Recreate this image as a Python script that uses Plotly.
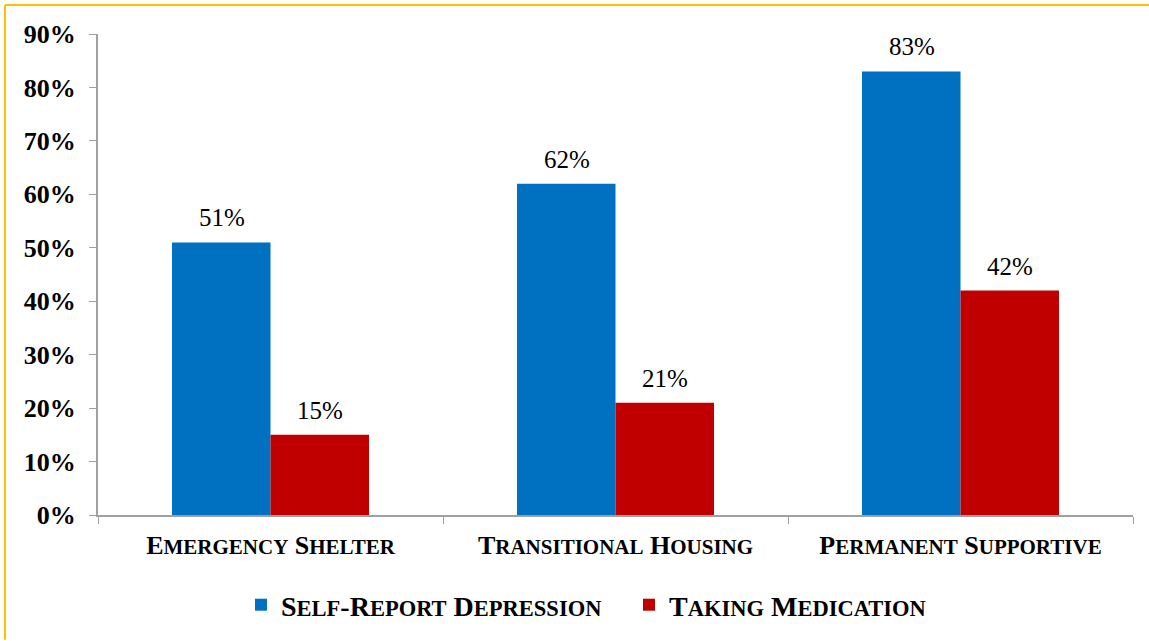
import plotly.graph_objects as go

categories = ["Emergency Shelter", "Transitional Housing", "Permanent Supportive"]
series_names = ["Self-Report Depression", "Taking Medication"]
self_report = [0.51, 0.62, 0.83]
taking_med = [0.15, 0.21, 0.42]
y_ticks = [0, 0.1, 0.2, 0.3, 0.4, 0.5, 0.6, 0.7, 0.8, 0.9]

colors = ["#0070C0", "#C00000"]
FONT = "Liberation Serif"


def smallcaps(s, small=21):
    out = ""
    start = True
    buf = ""
    for ch in s:
        if ch.isalpha():
            if start:
                if buf:
                    out += f"<span style='font-size:{small}px'>{buf}</span>"
                    buf = ""
                out += ch.upper()
                start = False
            else:
                buf += ch.upper()
        else:
            if buf:
                out += f"<span style='font-size:{small}px'>{buf}</span>"
                buf = ""
            out += ch
            start = ch in " -"
    if buf:
        out += f"<span style='font-size:{small}px'>{buf}</span>"
    return "<b>" + out + "</b>"


fig = go.Figure()
for name, vals, col in zip(series_names, [self_report, taking_med], colors):
    fig.add_trace(go.Bar(x=categories, y=vals, name=smallcaps(name, 22.5), marker_color=col,
                         marker_line_width=0))

# value labels
ann = []
for vals, shift in [(self_report, -49), (taking_med, 49)]:
    for c, v in zip(categories, vals):
        ann.append(dict(x=c, y=v, text=f"{round(v*100)}%", showarrow=False,
                        xshift=shift, yanchor="bottom", yshift=9,
                        font=dict(family=FONT, size=25, color="black")))

L, R, T, B = 98, 16, 34, 125
W, H = 1149, 641
pw, ph = W - L - R, H - T - B


def px_x(px):
    return (px - L) / pw


def px_y(py):
    return (H - B - py) / ph


shapes = [
    dict(type="line", xref="paper", yref="paper", x0=px_x(5), x1=px_x(1149), y0=px_y(5), y1=px_y(5),
         line=dict(color="#FFC000", width=2)),
    dict(type="line", xref="paper", yref="paper", x0=px_x(5), x1=px_x(5), y0=px_y(5), y1=px_y(641),
         line=dict(color="#FFC000", width=2)),
]

fig.update_layout(
    width=W, height=H,
    margin=dict(l=L, r=R, t=T, b=B),
    paper_bgcolor="white", plot_bgcolor="white",
    barmode="group", bargap=0.429, bargroupgap=0,
    font=dict(family=FONT, color="black"),
    annotations=ann,
    shapes=shapes,
    showlegend=True,
    legend=dict(orientation="h", x=px_x(241), xanchor="left", y=px_y(605), yanchor="middle",
                entrywidth=343, entrywidthmode="pixels",
                font=dict(family=FONT, size=28, color="black"), bgcolor="rgba(0,0,0,0)"),
    xaxis=dict(
        tickmode="array", tickvals=categories, ticktext=[smallcaps(c) for c in categories],
        tickson="boundaries", ticks="outside", ticklen=7, tickcolor="#A0A0A0",
        showline=True, linecolor="#A0A0A0", linewidth=2,
        tickfont=dict(family=FONT, size=26, color="black"),
        showgrid=False, ticklabelstandoff=6,
    ),
    yaxis=dict(
        range=[0, 0.9], tickvals=y_ticks, ticktext=[f"<b>{round(t*100)}%</b>" for t in y_ticks],
        ticks="outside", ticklen=7, tickcolor="#A0A0A0",
        showline=True, linecolor="#A0A0A0", linewidth=2,
        tickfont=dict(family=FONT, size=26, color="black"),
        showgrid=False, zeroline=False, ticklabelstandoff=8,
    ),
)

fig.write_html("out.html", config={"displayModeBar": False},
               post_script="document.body.style.margin='0';")
